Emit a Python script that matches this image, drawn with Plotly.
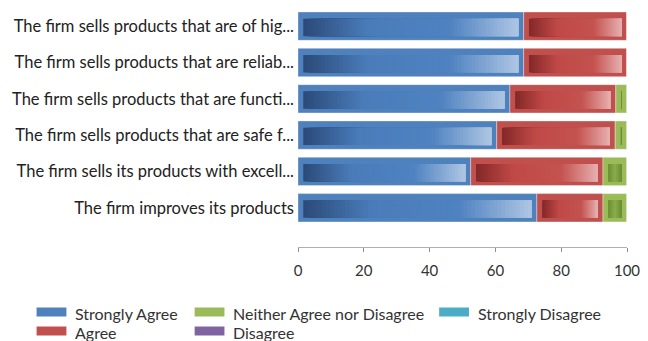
import plotly.graph_objects as go

# Survey statements (top to bottom) and response shares in percent
categories = [
    "The firm sells products that are of hig...",
    "The firm sells products that are reliab...",
    "The firm sells products that are functi...",
    "The firm sells products that are safe f...",
    "The firm sells its products with excell...",
    "The firm improves its products",
]
strongly_agree = [68.6, 68.6, 64.4, 60.4, 52.5, 72.6]
agree = [31.4, 31.4, 32.2, 36.0, 40.2, 20.1]
neither = [0.0, 0.0, 3.4, 3.6, 7.3, 7.3]
disagree = [0.0, 0.0, 0.0, 0.0, 0.0, 0.0]
strongly_disagree = [0.0, 0.0, 0.0, 0.0, 0.0, 0.0]

series_names = ["Strongly Agree", "Agree", "Neither Agree nor Disagree",
                "Disagree", "Strongly Disagree"]
series_values = [strongly_agree, agree, neither, disagree, strongly_disagree]
base_colors = ["#4f81bd", "#c0504d", "#9bbb59", "#8064a2", "#4bacc6"]

# Gradient stops used for the inner glossy strip of each segment
gradient_stops = {
    "Strongly Agree": [(0.0, "#2b4a78"), (0.3, "#4a7cba"), (0.68, "#4f82c0"), (1.0, "#aec6e4")],
    "Agree": [(0.0, "#832828"), (0.3, "#bf4946"), (0.7, "#c45350"), (1.0, "#e6b0af")],
    "Neither Agree nor Disagree": [(0.0, "#6b8e35"), (0.5, "#8aae4a"), (1.0, "#6b8e35")],
    "Disagree": [(0.0, "#5a447a"), (0.5, "#8064a2"), (1.0, "#b3a2c8")],
    "Strongly Disagree": [(0.0, "#2f7f96"), (0.5, "#4bacc6"), (1.0, "#9fd3e2")],
}

N_STEPS = 60
INSET = 1.6          # horizontal inset of the glossy strip, in axis units
BAR_W = 0.78
INNER_W = 0.48
INNER_SHIFT = 0.035
FONT = "Lato"


def hex_to_rgb(h):
    h = h.lstrip("#")
    return tuple(int(h[i:i + 2], 16) for i in (0, 2, 4))


def blend(stops, t):
    for (p0, c0), (p1, c1) in zip(stops[:-1], stops[1:]):
        if p0 <= t <= p1:
            f = 0 if p1 == p0 else (t - p0) / (p1 - p0)
            a, b = hex_to_rgb(c0), hex_to_rgb(c1)
            r = [round(a[i] + (b[i] - a[i]) * f) for i in range(3)]
            return "rgb({},{},{})".format(*r)
    return stops[-1][1]


fig = go.Figure()

starts = [0.0] * len(categories)
for name, vals, color in zip(series_names, series_values, base_colors):
    # solid outer segment
    fig.add_trace(go.Bar(
        y=categories, x=vals, base=starts, orientation="h", width=BAR_W,
        marker=dict(color=color, line=dict(color="rgba(255,255,255,0.35)", width=1)),
        name=name, showlegend=False, hoverinfo="skip",
    ))
    # glossy inner strip: each slice runs to the strip's end and is covered
    # by the next one, which leaves a seamless gradient
    inner_len = []
    for v in vals:
        if v <= 0:
            inner_len.append(0.0)
        elif v - 2 * INSET > 0:
            inner_len.append(v - 2 * INSET)
        else:
            inner_len.append(v * 0.3)
    inner_start = [s + (v - l) / 2 for s, v, l in zip(starts, vals, inner_len)]
    stops = gradient_stops[name]
    for k in range(N_STEPS):
        t = (k + 0.5) / N_STEPS
        base = [s + k * l / N_STEPS for s, l in zip(inner_start, inner_len)]
        span = [l * (N_STEPS - k) / N_STEPS for l in inner_len]
        fig.add_trace(go.Bar(
            y=categories, x=span, base=base, orientation="h",
            width=INNER_W, offset=-INNER_W / 2 + INNER_SHIFT,
            marker=dict(color=blend(stops, t), line=dict(width=0)),
            showlegend=False, hoverinfo="skip",
        ))
    starts = [s + v for s, v in zip(starts, vals)]

# Plot-area geometry (pixels) used to place the legend in paper coordinates
W, H = 648, 341
ML, MR, MT, MB = 298, 19, 8, 94
PW, PH = W - ML - MR, H - MT - MB


def px_to_paper(px, py):
    return (px - ML) / PW, (H - MB - py) / PH


legend_items = [
    ("Strongly Agree", 0, 35, 312),
    ("Agree", 1, 35, 331),
    ("Neither Agree nor Disagree", 2, 194, 312),
    ("Disagree", 3, 194, 331),
    ("Strongly Disagree", 4, 440, 312),
]
shapes = []
annotations = []
for label, idx, lx, ly in legend_items:
    x0, y0 = px_to_paper(lx, ly - 4.5)
    x1, y1 = px_to_paper(lx + 30, ly + 4.5)
    shapes.append(dict(type="rect", xref="paper", yref="paper",
                       x0=x0, x1=x1, y0=y1, y1=y0,
                       fillcolor=base_colors[idx], line=dict(width=0)))
    tx, ty = px_to_paper(lx + 37, ly + 1)
    annotations.append(dict(xref="paper", yref="paper", x=tx, y=ty, text=label,
                            showarrow=False, xanchor="left", yanchor="middle",
                            font=dict(size=16, color="#333333", family=FONT)))

fig.update_layout(
    width=W, height=H,
    margin=dict(l=ML, r=MR, t=MT, b=MB),
    barmode="overlay",
    plot_bgcolor="white", paper_bgcolor="white",
    font=dict(family=FONT, color="#222222"),
    showlegend=False,
    shapes=shapes, annotations=annotations,
)
fig.update_xaxes(
    range=[0, 100], tickvals=[0, 20, 40, 60, 80, 100],
    showgrid=False, zeroline=False,
    showline=True, linecolor="#b0b0b0", linewidth=1,
    ticks="outside", ticklen=4, tickcolor="#909090",
    ticklabelstandoff=6,
    tickfont=dict(size=15, color="#333333", family=FONT),
)
fig.update_yaxes(
    type="category", categoryorder="array", categoryarray=categories,
    range=[6.08, -0.5], autorange=False,
    showgrid=False, zeroline=False, showline=False, ticks="",
    ticklabelstandoff=3,
    tickfont=dict(size=16.5, color="#222222", family=FONT),
)

fig.write_html("out.html")
